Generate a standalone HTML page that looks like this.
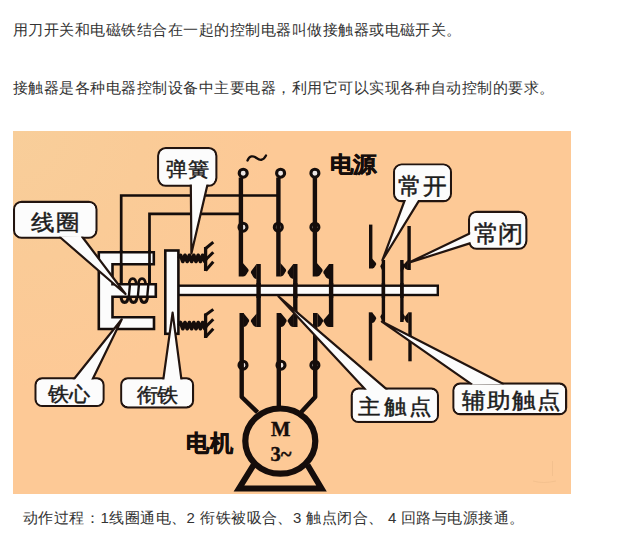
<!DOCTYPE html>
<html><head><meta charset="utf-8">
<style>
html,body{margin:0;padding:0;background:#fff;width:617px;height:537px;overflow:hidden}
body{font-family:"Liberation Sans",sans-serif;color:#333;font-size:15px;position:relative}
.t{position:absolute;white-space:nowrap;line-height:20px;letter-spacing:0.48px}
.c{position:absolute;white-space:nowrap;line-height:20px;top:508px}
</style></head><body>
<svg width="617" height="537" viewBox="0 0 617 537" style="position:absolute;left:0;top:0" font-family="Liberation Serif"><defs><radialGradient id="bg" gradientUnits="userSpaceOnUse" cx="13" cy="131" r="260"><stop offset="0" stop-color="#F8CE9A"/><stop offset="0.5" stop-color="#FACB97"/><stop offset="1" stop-color="#FDC996"/></radialGradient></defs><rect x="13" y="131" width="558" height="363" fill="url(#bg)"/><path d="M552.5,461 V476 M533,481 Q543,484 556,481" fill="none" stroke="#EDBB88" stroke-width="1" opacity="0.6"/><path d="M121.2,286 V195.5 H279" fill="none" stroke="#150d0b" stroke-width="2.7"/><path d="M149.5,286 V213.8 H242" fill="none" stroke="#150d0b" stroke-width="2.7"/><circle cx="243.2" cy="173.2" r="4.0" fill="#ece6e4" stroke="#150d0b" stroke-width="3.1"/><circle cx="280.6" cy="173.2" r="4.0" fill="#ece6e4" stroke="#150d0b" stroke-width="3.1"/><circle cx="314.9" cy="173.2" r="4.0" fill="#ece6e4" stroke="#150d0b" stroke-width="3.1"/><circle cx="243" cy="227.2" r="4.0" fill="#ece6e4" stroke="#150d0b" stroke-width="3.1"/><circle cx="278.3" cy="227.2" r="4.0" fill="#ece6e4" stroke="#150d0b" stroke-width="3.1"/><circle cx="314.9" cy="227.2" r="4.0" fill="#ece6e4" stroke="#150d0b" stroke-width="3.1"/><circle cx="243" cy="365.2" r="4.0" fill="#ece6e4" stroke="#150d0b" stroke-width="3.1"/><circle cx="281" cy="365.2" r="4.0" fill="#ece6e4" stroke="#150d0b" stroke-width="3.1"/><circle cx="314.9" cy="365.2" r="4.0" fill="#ece6e4" stroke="#150d0b" stroke-width="3.1"/><line x1="240.9" y1="177.5" x2="240.9" y2="276.5" stroke="#150d0b" stroke-width="4.4"/><line x1="278.4" y1="177.5" x2="278.4" y2="276.5" stroke="#150d0b" stroke-width="4.4"/><line x1="314.9" y1="177.5" x2="314.9" y2="276.5" stroke="#150d0b" stroke-width="4.4"/><path d="M241.7,313 V397 L257.6,412.4" fill="none" stroke="#150d0b" stroke-width="4.4" stroke-linejoin="round"/><path d="M278.8,313 V408" fill="none" stroke="#150d0b" stroke-width="4.4"/><path d="M315.2,313 V397 L301.3,412" fill="none" stroke="#150d0b" stroke-width="4.4" stroke-linejoin="round"/><path d="M242.9,263 L247.70,268.54 Q249.62,270.43 247.70,272.31 Q245.90,276.50 242.9,276.5 Z" fill="#150d0b"/><line x1="258.6" y1="264" x2="258.6" y2="327" stroke="#150d0b" stroke-width="4.4"/><path d="M256.6,264 L251.80,270.15 Q249.88,272.25 251.80,274.35 Q253.60,279.00 256.6,279 Z" fill="#150d0b"/><path d="M256.6,313.5 L251.80,319.04 Q249.88,320.93 251.80,322.81 Q253.60,327.00 256.6,327 Z" fill="#150d0b"/><path d="M243.4,313 L248.20,318.74 Q250.12,320.70 248.20,322.66 Q246.40,327.00 243.4,327 Z" fill="#150d0b"/><path d="M280.4,263 L285.20,268.54 Q287.12,270.43 285.20,272.31 Q283.40,276.50 280.4,276.5 Z" fill="#150d0b"/><line x1="295.3" y1="264" x2="295.3" y2="327" stroke="#150d0b" stroke-width="4.4"/><path d="M293.3,264 L288.50,270.15 Q286.58,272.25 288.50,274.35 Q290.30,279.00 293.3,279 Z" fill="#150d0b"/><path d="M293.3,313.5 L288.50,319.04 Q286.58,320.93 288.50,322.81 Q290.30,327.00 293.3,327 Z" fill="#150d0b"/><path d="M280.9,313 L285.70,318.74 Q287.62,320.70 285.70,322.66 Q283.90,327.00 280.9,327 Z" fill="#150d0b"/><path d="M316.9,263 L321.70,268.54 Q323.62,270.43 321.70,272.31 Q319.90,276.50 316.9,276.5 Z" fill="#150d0b"/><line x1="331.1" y1="264" x2="331.1" y2="327" stroke="#150d0b" stroke-width="4.4"/><path d="M329.1,264 L324.30,270.15 Q322.38,272.25 324.30,274.35 Q326.10,279.00 329.1,279 Z" fill="#150d0b"/><path d="M329.1,313.5 L324.30,319.04 Q322.38,320.93 324.30,322.81 Q326.10,327.00 329.1,327 Z" fill="#150d0b"/><path d="M317.4,313 L322.20,318.74 Q324.12,320.70 322.20,322.66 Q320.40,327.00 317.4,327 Z" fill="#150d0b"/><rect x="178" y="285.7" width="259.8" height="9.3" fill="#fcfcfc" stroke="#150d0b" stroke-width="2.4"/><line x1="258.6" y1="283" x2="258.6" y2="298" stroke="#150d0b" stroke-width="4.4"/><line x1="295.3" y1="283" x2="295.3" y2="298" stroke="#150d0b" stroke-width="4.4"/><line x1="331.1" y1="283" x2="331.1" y2="298" stroke="#150d0b" stroke-width="4.4"/><line x1="370.7" y1="224.6" x2="370.7" y2="268.5" stroke="#150d0b" stroke-width="3.4"/><path d="M372,258.5 L375.60,262.60 Q377.04,264.00 375.60,265.40 Q374.25,268.50 372,268.5 Z" fill="#150d0b"/><line x1="409.1" y1="226" x2="409.1" y2="270" stroke="#150d0b" stroke-width="3.4"/><path d="M407.8,260 L404.20,264.10 Q402.76,265.50 404.20,266.90 Q405.55,270.00 407.8,270 Z" fill="#150d0b"/><line x1="370.5" y1="312.3" x2="370.5" y2="360.5" stroke="#150d0b" stroke-width="3.4"/><path d="M372,312.3 L375.60,316.69 Q377.04,318.19 375.60,319.68 Q374.25,323.00 372,323 Z" fill="#150d0b"/><line x1="410" y1="312.3" x2="410" y2="361.3" stroke="#150d0b" stroke-width="3.4"/><path d="M408.5,312.3 L404.90,316.69 Q403.46,318.19 404.90,319.68 Q406.25,323.00 408.5,323 Z" fill="#150d0b"/><line x1="383.4" y1="260" x2="383.4" y2="322" stroke="#150d0b" stroke-width="3.4"/><path d="M384.59999999999997,260 L381.00,264.71 Q379.56,266.32 381.00,267.94 Q382.35,271.50 384.59999999999997,271.5 Z" fill="#150d0b"/><path d="M384.59999999999997,310.5 L381.00,315.21 Q379.56,316.82 381.00,318.44 Q382.35,322.00 384.59999999999997,322 Z" fill="#150d0b"/><line x1="401.9" y1="260" x2="401.9" y2="322" stroke="#150d0b" stroke-width="3.4"/><path d="M400.7,260 L404.30,264.71 Q405.74,266.32 404.30,267.94 Q402.95,271.50 400.7,271.5 Z" fill="#150d0b"/><path d="M400.7,310.5 L404.30,315.21 Q405.74,316.82 404.30,318.44 Q402.95,322.00 400.7,322 Z" fill="#150d0b"/><line x1="383.4" y1="283" x2="383.4" y2="298" stroke="#150d0b" stroke-width="3.4"/><line x1="401.9" y1="283" x2="401.9" y2="298" stroke="#150d0b" stroke-width="3.4"/><path d="M98.8,252.2 H153.8 V264.2 H112.5 V284.2 H155.8 V296.8 H112.5 V317.2 H154 V329 H98.8 Z" fill="#fcfcfc" stroke="#150d0b" stroke-width="2.6"/><line x1="121.2" y1="250" x2="121.2" y2="285" stroke="#150d0b" stroke-width="2.7"/><line x1="149.5" y1="250" x2="149.5" y2="285" stroke="#150d0b" stroke-width="2.7"/><path d="M121.1,296 C121.1,304.5 128.1,304.5 128.1,296" fill="none" stroke="#150d0b" stroke-width="3.1"/><path d="M130.0,296 C130.0,304.5 137.0,304.5 137.0,296" fill="none" stroke="#150d0b" stroke-width="3.1"/><path d="M140.5,296 C140.5,304.5 147.5,304.5 147.5,296" fill="none" stroke="#150d0b" stroke-width="3.1"/><path d="M129.2,285 C129.2,276.5 136.2,276.5 136.2,285" fill="none" stroke="#150d0b" stroke-width="2.6"/><path d="M138.5,285 C138.5,276.5 145.5,276.5 145.5,285" fill="none" stroke="#150d0b" stroke-width="2.6"/><line x1="128.9" y1="296" x2="129.9" y2="285" stroke="#150d0b" stroke-width="2.4"/><line x1="137.9" y1="296" x2="138.9" y2="285" stroke="#150d0b" stroke-width="2.4"/><line x1="147.3" y1="296" x2="148.3" y2="285" stroke="#150d0b" stroke-width="2.4"/><rect x="165.3" y="250.5" width="13.1" height="83.3" fill="#fcfcfc" stroke="#150d0b" stroke-width="2.6"/><path d="M179,258.4 L180.6,255.39999999999998 L182.8,261.4 L185.0,255.39999999999998 L187.2,261.4 L189.4,255.39999999999998 L191.6,261.4 L193.8,255.39999999999998 L196.0,261.4 L198.2,255.39999999999998 L200.4,261.4 L202.6,255.39999999999998 L204.8,261.4 L206,258.4" fill="none" stroke="#150d0b" stroke-width="3.8" stroke-linejoin="round"/><line x1="205.6" y1="247" x2="205.6" y2="271" stroke="#150d0b" stroke-width="3.3"/><line x1="205.6" y1="248.5" x2="213.3" y2="242.2" stroke="#150d0b" stroke-width="3"/><line x1="205.6" y1="259.7" x2="213.3" y2="252.2" stroke="#150d0b" stroke-width="3"/><line x1="205.6" y1="270.6" x2="213.3" y2="261.8" stroke="#150d0b" stroke-width="3"/><path d="M179,325.6 L180.6,322.6 L182.8,328.6 L185.0,322.6 L187.2,328.6 L189.4,322.6 L191.6,328.6 L193.8,322.6 L196.0,328.6 L198.2,322.6 L200.4,328.6 L202.6,322.6 L204.8,328.6 L206,325.6" fill="none" stroke="#150d0b" stroke-width="3.8" stroke-linejoin="round"/><line x1="205.6" y1="313.5" x2="205.6" y2="338" stroke="#150d0b" stroke-width="3.3"/><line x1="205.6" y1="315" x2="213.3" y2="309.4" stroke="#150d0b" stroke-width="3"/><line x1="205.6" y1="326.9" x2="213.3" y2="319.2" stroke="#150d0b" stroke-width="3"/><line x1="205.6" y1="337" x2="213.3" y2="328.7" stroke="#150d0b" stroke-width="3"/><ellipse cx="280.3" cy="441.1" rx="35" ry="32.6" fill="none" stroke="#150d0b" stroke-width="6.2"/><path d="M253.5,465 L239,488.5 H321.5 L307.5,465" fill="none" stroke="#150d0b" stroke-width="6" stroke-linejoin="miter"/><rect x="14.10" y="201.90" width="82.30" height="35.80" rx="7.5" fill="#fcfcfc" stroke="#22140f" stroke-width="2.2"/><path d="M59.2,236.5 L125.5,294 L81.6,236.0" fill="#fcfcfc" stroke="#22140f" stroke-width="2.2" stroke-linejoin="round"/><rect x="15.20" y="203.00" width="80.10" height="33.60" rx="6.4" fill="#fcfcfc"/><text transform="translate(31.34,230.12) scale(1.07,1)" font-size="22.21" letter-spacing="0.70" fill="#1c1c1c" stroke="#1c1c1c" stroke-width="0.45">线圈</text><rect x="158.20" y="148.20" width="58.10" height="37.40" rx="7.5" fill="#fcfcfc" stroke="#22140f" stroke-width="2.2"/><path d="M190.8,183.2 L191.4,253.5 L207.8,183.3" fill="#fcfcfc" stroke="#22140f" stroke-width="2.2" stroke-linejoin="round"/><rect x="159.30" y="149.30" width="55.90" height="35.20" rx="6.4" fill="#fcfcfc"/><text transform="translate(166.4,175.92) scale(1.065,1)" font-size="19.9" letter-spacing="0.00" fill="#1c1c1c" stroke="#1c1c1c" stroke-width="0.45">弹簧</text><rect x="394.10" y="164.50" width="56.80" height="36.70" rx="7.5" fill="#fcfcfc" stroke="#22140f" stroke-width="2.2"/><path d="M405.2,199.0 L382.5,260 L419.8,199.3" fill="#fcfcfc" stroke="#22140f" stroke-width="2.2" stroke-linejoin="round"/><rect x="395.20" y="165.60" width="54.60" height="34.50" rx="6.4" fill="#fcfcfc"/><text transform="translate(398.22,193.61) scale(1.032,1)" font-size="23.16" letter-spacing="0.00" fill="#1c1c1c" stroke="#1c1c1c" stroke-width="0.45">常开</text><rect x="469.10" y="211.90" width="57.20" height="36.70" rx="7.5" fill="#fcfcfc" stroke="#22140f" stroke-width="2.2"/><path d="M471.2,232.8 L408,263 L471.3,242.9" fill="#fcfcfc" stroke="#22140f" stroke-width="2.2" stroke-linejoin="round"/><rect x="470.20" y="213.00" width="55.00" height="34.50" rx="6.4" fill="#fcfcfc"/><text transform="translate(473.71,241.53) scale(1.047,1)" font-size="23.79" letter-spacing="0.00" fill="#1c1c1c" stroke="#1c1c1c" stroke-width="0.45">常闭</text><rect x="35.60" y="378.40" width="67.90" height="27.60" rx="6.5" fill="#fcfcfc" stroke="#22140f" stroke-width="2.2"/><path d="M73.2,380.0 L121.8,319.3 L92.0,380.4" fill="#fcfcfc" stroke="#22140f" stroke-width="2.2" stroke-linejoin="round"/><rect x="36.70" y="379.50" width="65.70" height="25.40" rx="5.4" fill="#fcfcfc"/><text transform="translate(48.2,401.41) scale(1.054,1)" font-size="19.9" letter-spacing="0.00" fill="#1c1c1c" stroke="#1c1c1c" stroke-width="0.45">铁心</text><rect x="121.30" y="378.40" width="71.70" height="28.90" rx="6.5" fill="#fcfcfc" stroke="#22140f" stroke-width="2.2"/><path d="M163.1,380.8 L172.6,312.6 L181.6,380.8" fill="#fcfcfc" stroke="#22140f" stroke-width="2.2" stroke-linejoin="round"/><rect x="122.40" y="379.50" width="69.50" height="26.70" rx="5.4" fill="#fcfcfc"/><text transform="translate(136.51,402.05) scale(1.054,1)" font-size="19.57" letter-spacing="-0.00" fill="#1c1c1c" stroke="#1c1c1c" stroke-width="0.45">衔铁</text><rect x="351.80" y="388.70" width="86.10" height="33.20" rx="6.5" fill="#fcfcfc" stroke="#22140f" stroke-width="2.2"/><path d="M366.0,390.2 L278.4,296.3 L387.4,389.9" fill="#fcfcfc" stroke="#22140f" stroke-width="2.2" stroke-linejoin="round"/><rect x="352.90" y="389.80" width="83.90" height="31.00" rx="5.4" fill="#fcfcfc"/><text transform="translate(358.27,413.94) scale(1.07,1)" font-size="21.1" letter-spacing="2.41" fill="#1c1c1c" stroke="#1c1c1c" stroke-width="0.45">主触点</text><rect x="453.50" y="383.70" width="112.60" height="30.50" rx="6.5" fill="#fcfcfc" stroke="#22140f" stroke-width="2.2"/><path d="M472.1,384.6 L381.8,321.6 L503.9,384.2" fill="#fcfcfc" stroke="#22140f" stroke-width="2.2" stroke-linejoin="round"/><rect x="454.60" y="384.80" width="110.40" height="28.30" rx="5.4" fill="#fcfcfc"/><text transform="translate(461.9,407.85) scale(1.07,1)" font-size="21.64" letter-spacing="2.00" fill="#1c1c1c" stroke="#1c1c1c" stroke-width="0.45">辅助触点</text><text transform="translate(329.72,171.86) scale(1.07,1)" font-size="21.6" letter-spacing="0.31" font-weight="bold" fill="#150d0b" stroke="#150d0b" stroke-width="0.5">电源</text><text transform="translate(186.13,451.16) scale(1.009,1)" font-size="23.49" letter-spacing="0.00" font-weight="bold" fill="#150d0b" stroke="#150d0b" stroke-width="0.5">电机</text><text x="280.6" y="436" font-size="20.5" font-weight="bold" fill="#150d0b" stroke="#150d0b" stroke-width="0.4" text-anchor="middle">M</text><text x="281" y="461.3" font-size="20.5" font-weight="bold" fill="#150d0b" stroke="#150d0b" stroke-width="0.4" text-anchor="middle">3~</text><path d="M247.5,160.5 C249.5,155.5 253,155.5 256.5,158 C260,160.5 263,161 266,155.5" fill="none" stroke="#150d0b" stroke-width="2.3" stroke-linecap="round"/></svg>
<div class="t" style="left:13px;top:20px">用刀开关和电磁铁结合在一起的控制电器叫做接触器或电磁开关。</div>
<div class="t" style="left:13px;top:78px">接触器是各种电器控制设备中主要电器，利用它可以实现各种自动控制的要求。</div>
<div class="t" style="left:23px;top:508px">动作过程：1线圈通电、2 衔铁被吸合、3 触点闭合、</div><div class="t" style="left:388px;top:508px">4 </div><div class="t" style="left:401px;top:508px">回路与电源接通。</div>
</body></html>
